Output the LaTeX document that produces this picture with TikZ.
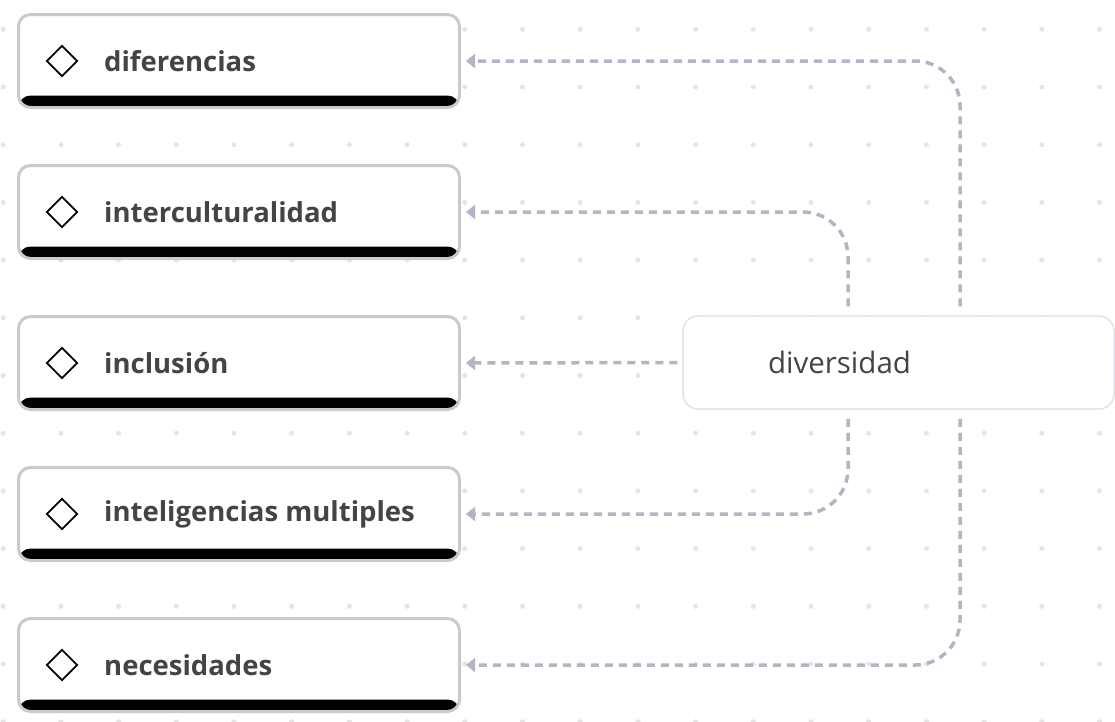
\documentclass[tikz,border=0pt]{standalone}
\usepackage{fontspec}
\setmainfont{Open Sans}
\usetikzlibrary{arrows.meta}
\usetikzlibrary{shapes.geometric}
\definecolor{dotgray}{HTML}{E4E4EA}
\definecolor{framegray}{HTML}{CACACA}
\definecolor{linkgray}{HTML}{B4B5C4}
\definecolor{textgray}{HTML}{444444}
\definecolor{rootgray}{HTML}{E2E2E8}
\tikzset{
  topic/.style={rectangle, rounded corners=12pt, draw=framegray, line width=3pt, fill=white,
    minimum width=441pt, minimum height=93pt, inner sep=0pt,
    path picture={\fill[black] ([yshift=12pt]path picture bounding box.south west) rectangle (path picture bounding box.south east);}},
  topictext/.style={anchor=west, inner sep=0pt, text=textgray, font=\fontsize{27.5}{32}\selectfont\bfseries},
  diamondmark/.style={diamond, draw=black, line width=1.8pt, minimum width=31pt, minimum height=31pt, inner sep=0pt},
  rootbox/.style={rectangle, rounded corners=15pt, draw=rootgray, line width=1.5pt, fill=white,
    minimum width=431pt, minimum height=93pt, text width=261pt, align=left, inner xsep=85pt,
    text=textgray, font=\fontsize{29.5}{34}\selectfont},
  link/.style={draw=linkgray, line width=3.5pt, dash pattern=on 8pt off 6pt, rounded corners=45pt,
    -{Triangle[length=9pt,width=14pt,fill=linkgray]}}
}
\begin{document}
\begin{tikzpicture}[x=1pt,y=-1pt]
\clip (0,0) rectangle (1115,721);
\fill[white] (0,0) rectangle (1115,721);
% dot grid
\foreach \i in {0,...,19}
  \foreach \j in {0,...,12}
    \fill[dotgray] (3.2+57.7*\i, 29.3+57.7*\j) circle (2.5);

\node[topic] (b1) at (239,61) {};
\node[topic] (b2) at (239,212) {};
\node[topic] (b3) at (239,363) {};
\node[topic] (b4) at (239,514) {};
\node[topic] (b5) at (239,665) {};

\node[diamondmark] (d1) at ([xshift=45pt]b1.west) {};
\node[diamondmark] (d2) at ([xshift=45pt]b2.west) {};
\node[diamondmark] (d3) at ([xshift=45pt]b3.west) {};
\node[diamondmark] (d4) at ([xshift=45pt]b4.west) {};
\node[diamondmark] (d5) at ([xshift=45pt]b5.west) {};

\node[topictext] (t1) at ([xshift=87pt]b1.west) {diferencias};
\node[topictext] (t2) at ([xshift=87pt]b2.west) {interculturalidad};
\node[topictext] (t3) at ([xshift=87pt]b3.west) {inclusión};
\node[topictext] (t4) at ([xshift=87pt]b4.west) {inteligencias multiples};
\node[topictext] (t5) at ([xshift=87pt]b5.west) {necesidades};

\node[rootbox] (div) at (898.5,362.5) {diversidad};

\draw[link] ([xshift=61.5pt,yshift=9pt]div.north) |- ([xshift=5pt]b1.east);
\draw[link] ([xshift=-50.5pt,yshift=9pt]div.north) |- ([xshift=5pt]b2.east);
\draw[link] ([xshift=-5pt]div.west) -- ([xshift=5pt]b3.east);
\draw[link] ([xshift=-50.5pt,yshift=-9pt]div.south) |- ([xshift=5pt]b4.east);
\draw[link] ([xshift=61.5pt,yshift=-9pt]div.south) |- ([xshift=5pt]b5.east);
\end{tikzpicture}
\end{document}
